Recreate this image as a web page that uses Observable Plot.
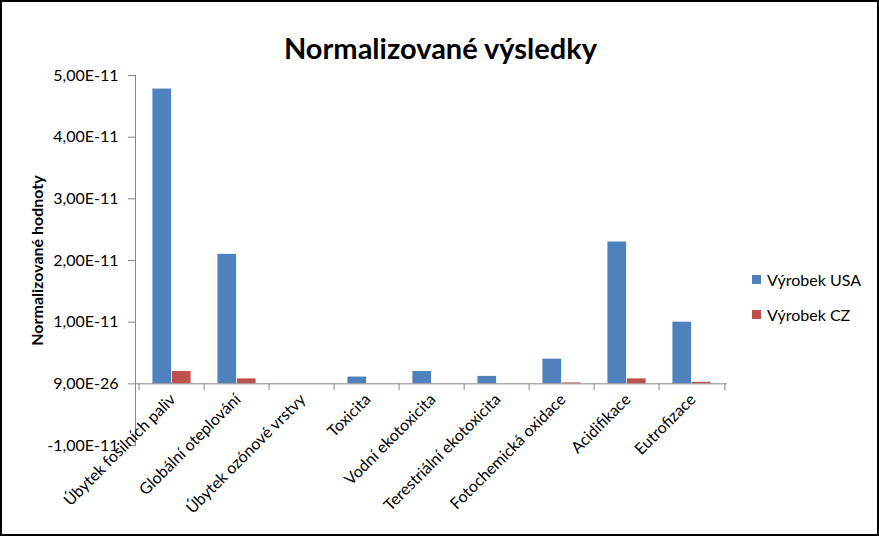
<!DOCTYPE html>
<html>
<head>
<meta charset="utf-8">
<script src="https://cdn.jsdelivr.net/npm/d3@7"></script>
<script src="https://cdn.jsdelivr.net/npm/@observablehq/plot@0.6"></script>
<style>
  html, body { margin: 0; padding: 0; background: #fff; }
  #wrap { position: relative; width: 879px; height: 536px; overflow: hidden; font-family: Lato, "Open Sans", sans-serif; }
  #border { position: absolute; left: 0; top: 0; width: 879px; height: 536px; box-sizing: border-box; border: 2px solid #000; pointer-events: none; }
  #legend { position: absolute; left: 752px; top: 262px; font-size: 16px; color: #000; }
  #legend .item { display: flex; align-items: center; height: 35px; }
  #legend .sw { width: 9px; height: 9px; margin-right: 6px; }
  #chart { position: absolute; left: 0; top: 0; }
</style>
</head>
<body>
<div id="wrap">
  <div id="chart"></div>
  <div id="legend"></div>
  <div id="border"></div>
</div>
<script>
const categories = [
  "Úbytek fosilních paliv",
  "Globální oteplování",
  "Úbytek ozónové vrstvy",
  "Toxicita",
  "Vodní ekotoxicita",
  "Terestriální ekotoxicita",
  "Fotochemická oxidace",
  "Acidifikace",
  "Eutrofizace"
];
const seriesNames = ["Výrobek USA", "Výrobek CZ"];
const seriesColors = ["#4F81BD", "#C0504D"];
const valuesUSA = [4.78e-11, 2.1e-11, 0, 1.1e-12, 2.0e-12, 1.2e-12, 4.0e-12, 2.3e-11, 1.0e-11];
const valuesCZ  = [2.0e-12, 0.8e-12, 0, 0, 0, 0, 0.15e-12, 0.8e-12, 0.25e-12];
const yTicks = [-1e-11, 0, 1e-11, 2e-11, 3e-11, 4e-11, 5e-11];
const yTickLabels = ["-1,00E-11", "9,00E-26", "1,00E-11", "2,00E-11", "3,00E-11", "4,00E-11", "5,00E-11"];
const title = "Normalizované výsledky";
const yLabel = "Normalizované hodnoty";

const rows = [];
categories.forEach((c, i) => {
  rows.push({category: c, series: seriesNames[0], value: valuesUSA[i]});
  rows.push({category: c, series: seriesNames[1], value: valuesCZ[i]});
});

const W = 879, H = 536;
const mL = 135, mR = 152, mT = 75, mB = 91;
const step = (W - mL - mR) / categories.length;
const barW = step * 0.296;
const outer = (step - 2 * barW) / 2;
const axisColor = "#868686";
const font = "Lato, 'Open Sans', sans-serif";

const chart = Plot.plot({
  width: W,
  height: H,
  marginLeft: mL,
  marginRight: mR,
  marginTop: mT,
  marginBottom: mB,
  style: {fontFamily: font, fontSize: "16px", color: "#000", background: "transparent", overflow: "visible"},
  x: {domain: categories, padding: 0, axis: null},
  y: {domain: [-1e-11, 5e-11], axis: null},
  color: {domain: seriesNames, range: seriesColors},
  marks: [
    // left axis line
    Plot.frame({anchor: "left", stroke: axisColor}),
    Plot.axisY({
      ticks: yTicks,
      tickFormat: d => yTickLabels[yTicks.indexOf(d)],
      tickSize: 7,
      tickPadding: 10,
      stroke: axisColor,
      fontSize: 16,
      label: null
    }),
    Plot.text([yLabel], {
      frameAnchor: "left",
      text: d => d,
      textAnchor: "middle",
      rotate: -90,
      dx: -98,
      dy: 0,
      fontWeight: "bold",
      fontSize: 16
    }),
    // bars
    Plot.barY(rows.filter(d => d.series === seriesNames[0]), {
      x: "category", y: "value", fill: "series",
      insetLeft: outer, insetRight: outer + barW
    }),
    Plot.barY(rows.filter(d => d.series === seriesNames[1]), {
      x: "category", y: "value", fill: "series",
      insetLeft: outer + barW, insetRight: outer
    }),
    // baseline at zero
    Plot.ruleY([0], {stroke: axisColor}),
    // category boundary ticks
    Plot.ruleX(categories, {x: d => d, dx: -step / 2, y1: () => 0, y2: () => -1.1e-12, stroke: axisColor}),
    Plot.ruleX([categories[categories.length - 1]], {x: d => d, dx: step / 2, y1: () => 0, y2: () => -1.1e-12, stroke: axisColor}),
    // category labels
    Plot.text(categories, {
      x: d => d, y: () => 0, text: d => d,
      rotate: -45, textAnchor: "end",
      dx: 1, dy: 13, fontSize: 16
    }),
    // title
    Plot.text([title], {
      frameAnchor: "top", text: d => d,
      dx: 440 - (mL + (W - mL - mR) / 2), dy: -37,
      fontWeight: "bold", fontSize: 29
    })
  ]
});
document.getElementById("chart").appendChild(chart);

const legend = document.getElementById("legend");
seriesNames.forEach((s, i) => {
  const it = document.createElement("div");
  it.className = "item";
  const sw = document.createElement("div");
  sw.className = "sw";
  sw.style.background = seriesColors[i];
  const t = document.createElement("span");
  t.textContent = s;
  it.appendChild(sw);
  it.appendChild(t);
  legend.appendChild(it);
});
</script>
</body>
</html>
